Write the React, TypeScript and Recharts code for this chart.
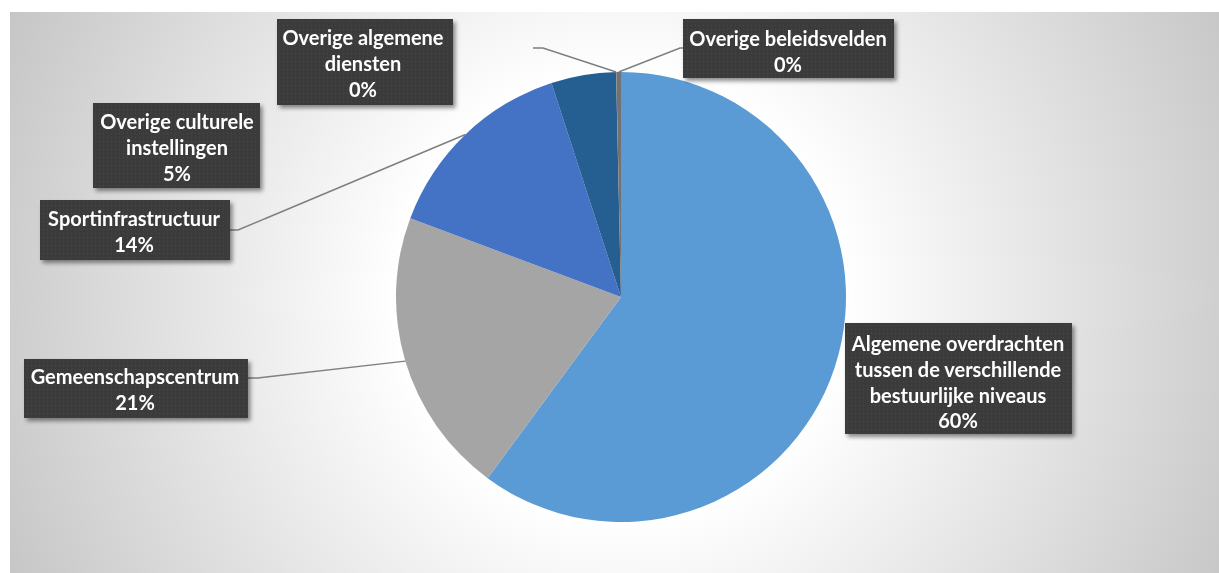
import React from "react";
import { PieChart, Pie, Cell } from "recharts";

// ---- data ----
const categories = [
  "Algemene overdrachten tussen de verschillende bestuurlijke niveaus",
  "Gemeenschapscentrum",
  "Sportinfrastructuur",
  "Overige culturele instellingen",
  "Overige algemene diensten",
  "Overige beleidsvelden",
];
const values = [60.1, 20.6, 14.3, 4.65, 0.02, 0.33];
const labelLines = [
  ["Algemene overdrachten", "tussen de verschillende", "bestuurlijke niveaus"],
  ["Gemeenschapscentrum"],
  ["Sportinfrastructuur"],
  ["Overige culturele", "instellingen"],
  ["Overige algemene", "diensten"],
  ["Overige beleidsvelden"],
];

// ---- styles / layout ----
const colors = ["#5B9BD5", "#A5A5A5", "#4472C4", "#255E91", "#6F6F6F", "#727272"];
const W = 1209;
const H = 561;
const CX = 611;
const CY = 285;
const R = 225;
const LINE_H = 25.8;

type Box = { x: number; y: number; w: number; h: number; tx: number; ty: number; line?: [number, number, number] };
const boxes: Box[] = [
  { x: 835, y: 311, w: 227, h: 111, tx: 948, ty: 331 },
  { x: 14, y: 347, w: 224, h: 59, tx: 125, ty: 364, line: [248, 366, 238] },
  { x: 30, y: 188, w: 190, h: 60, tx: 124, ty: 206, line: [228, 218, 220] },
  { x: 83, y: 91, w: 167, h: 85, tx: 167, ty: 109 },
  { x: 267, y: 7, w: 176, h: 86, tx: 353, ty: 25, line: [533, 36, 523] },
  { x: 673, y: 7, w: 211, h: 59, tx: 778, ty: 26, line: [670, 36, 673] },
];

const data = categories.map((name, i) => ({ name, value: values[i] }));
const RAD = Math.PI / 180;

const renderLabel = (props: any) => {
  const { cx, cy, midAngle, outerRadius, percent, index } = props;
  const b = boxes[index];
  const lines = [...labelLines[index], `${Math.round(percent * 100)}%`];
  const sx = cx + outerRadius * Math.cos(-midAngle * RAD);
  const sy = cy + outerRadius * Math.sin(-midAngle * RAD);
  return (
    <g key={`lbl-${index}`}>
      {b.line && (
        <polyline
          points={`${sx},${sy} ${b.line[0]},${b.line[1]} ${b.line[2]},${b.line[1]}`}
          fill="none"
          stroke="#7F7F7F"
          strokeWidth={1.5}
        />
      )}
      <rect x={b.x} y={b.y} width={b.w} height={b.h} fill="url(#dots)" filter="url(#shadow)" />
      {lines.map((t, k) => (
        <text
          key={k}
          x={b.tx}
          y={b.ty + k * LINE_H}
          textAnchor="middle"
          dominantBaseline="central"
          fill="#FFFFFF"
          fontFamily="Lato, 'Noto Sans', sans-serif"
          fontWeight={700}
          fontSize={20}
        >
          {t}
        </text>
      ))}
    </g>
  );
};

export default function App() {
  return (
    <div
      style={{
        position: "fixed",
        left: 10,
        top: 12,
        width: W,
        height: H,
        background:
          "radial-gradient(circle farthest-corner at 611px 285px, #ffffff 0%, #ffffff 33%, #c6c6c6 100%)",
      }}
    >
      <PieChart width={W} height={H} margin={{ top: 0, right: 0, bottom: 0, left: 0 }}>
        <defs>
          <pattern id="dots" x="0" y="0" width="4" height="4" patternUnits="userSpaceOnUse">
            <rect width="4" height="4" fill="#3A3A3A" />
            <rect x="1" y="1" width="1" height="1" fill="#4A4A4A" />
          </pattern>
          <filter id="shadow" x="-10%" y="-10%" width="130%" height="140%">
            <feDropShadow dx="2.5" dy="3" stdDeviation="2" floodColor="#000000" floodOpacity="0.45" />
          </filter>
        </defs>
        <Pie
          data={data}
          dataKey="value"
          nameKey="name"
          cx={CX}
          cy={CY}
          outerRadius={R}
          startAngle={90}
          endAngle={-270}
          stroke="none"
          isAnimationActive={false}
          label={renderLabel}
          labelLine={false}
        >
          {data.map((d, i) => (
            <Cell key={d.name} fill={colors[i]} />
          ))}
        </Pie>
      </PieChart>
    </div>
  );
}
